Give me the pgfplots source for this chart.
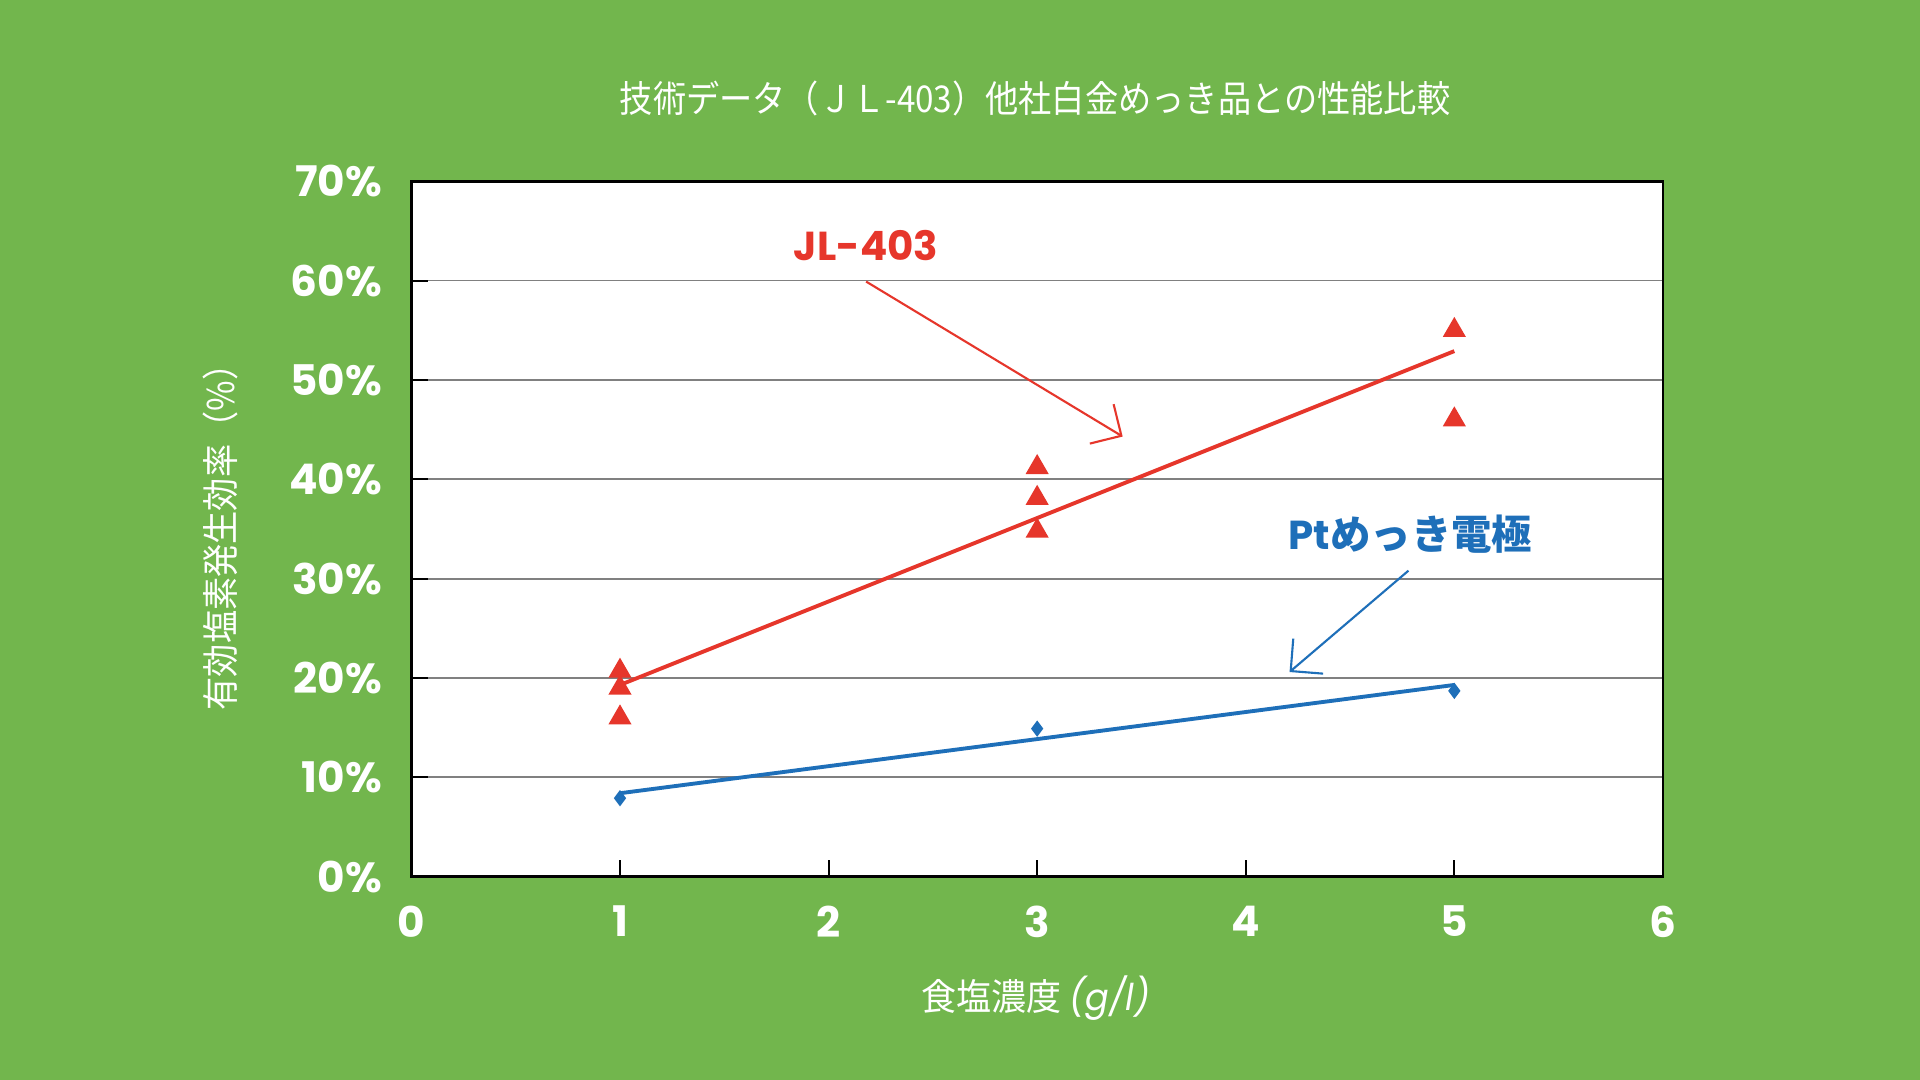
\documentclass[border=0pt]{standalone}
\usepackage{pgfplots}
\pgfplotsset{compat=1.18}
\usepackage{fontspec}
\usepackage{graphicx}
\usetikzlibrary{arrows.meta}
\setmainfont{Poppins}
\newfontfamily\pop{Poppins}
\newfontfamily\cjk{Noto Sans CJK JP}
\definecolor{bg}{HTML}{72B64D}
\definecolor{jlred}{HTML}{E6362B}
\definecolor{ptblue}{HTML}{1E6FB9}
\definecolor{gridgray}{HTML}{808080}

\begin{document}
\begin{tikzpicture}
\path[use as bounding box, fill=bg] (0,0) rectangle (19.2cm,10.8cm);

\node[text=white, font=\cjk\fontsize{10.5}{12}\selectfont] at (10.35cm,9.82cm)
  {\scalebox{0.9}[1]{技術データ（ＪＬ-403）他社白金めっき品との性能比較}};
\node[text=white, rotate=90, font=\cjk\fontsize{10.5}{12}\selectfont] at (2.20cm,5.51cm)
  {\scalebox{0.9}[1]{有効塩素発生効率（\%）}};
\node[text=white, font=\cjk\fontsize{10.5}{12}\selectfont] at (10.36cm,0.82cm)
  {\scalebox{0.95}[1]{食塩濃度 {\pop\itshape (g/l)}}};

\begin{axis}[
    at={(4.114cm,2.033cm)}, anchor=south west,
    scale only axis,
    width=12.515cm, height=6.955cm,
    xmin=0, xmax=6, ymin=0, ymax=70,
    axis background/.style={fill=white},
    axis line style={black, line width=0.8pt},
    xtick={0,1,2,3,4,5,6},
    xticklabels={0,1,2,3,4,5,6},
    ytick={0,10,20,30,40,50,60,70},
    yticklabels={0\%,10\%,20\%,30\%,40\%,50\%,60\%,70\%},
    tick align=inside,
    major tick length=0.17cm,
    tick style={black, line width=0.6pt},
    xtick pos=bottom, ytick pos=left,
    ymajorgrids=true,
    major grid style={gridgray, line width=0.5pt},
    ticklabel style={text=white, font=\pop\bfseries\fontsize{12}{14}\selectfont},
    xticklabel style={yshift=-0.17cm},
    yticklabel style={xshift=-0.17cm},
    clip=false,
]
% JL-403
\addplot[only marks, mark=triangle*, mark size=3.4pt, color=jlred] coordinates {
    (1,20.7) (1,19.0) (1,16.0)
    (3,41.2) (3,38.1) (3,34.8)
    (5,55.0) (5,46.0)
};
\addplot[jlred, line width=1.1pt] coordinates {(1,19.3) (5,52.9)};
% Pt plated
\addplot[only marks, mark=diamond*, mark size=2.0pt, color=ptblue] coordinates {
    (1,7.9) (3,14.9) (5,18.7)
};
\addplot[ptblue, line width=1.1pt] coordinates {(1,8.4) (5,19.3)};

\node[text=jlred, font=\pop\bfseries\fontsize{11.5}{13}\selectfont] at (axis cs:2.18,63.5) {JL-403};
\draw[jlred, line width=0.6pt, -{Straight Barb[length=2.3mm,width=4.6mm]}]
    (axis cs:2.18,59.9) -- (axis cs:3.41,44.3);
\node[text=ptblue, font=\fontsize{11.5}{13}\selectfont] at (axis cs:4.79,34.5)
    {{\pop\bfseries Pt}{\cjk\bfseries めっき電極}};
\draw[ptblue, line width=0.6pt, -{Straight Barb[length=2.3mm,width=4.6mm]}]
    (axis cs:4.78,30.8) -- (axis cs:4.21,20.6);
\end{axis}
\end{tikzpicture}
\end{document}
